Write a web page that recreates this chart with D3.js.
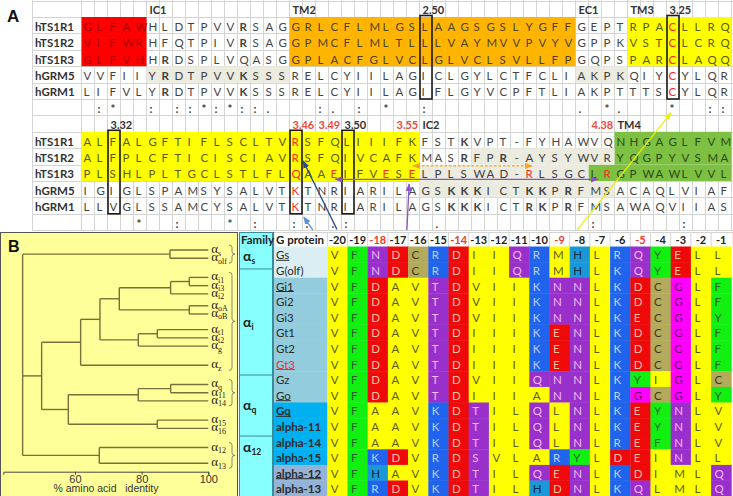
<!DOCTYPE html>
<html><head><meta charset="utf-8">
<script src="https://cdn.jsdelivr.net/npm/d3@7/dist/d3.min.js"></script>
<style>
html,body{margin:0;padding:0;background:#fff;}
svg{display:block;}
</style></head>
<body>
<svg id="fig" width="733" height="496"></svg>
<script>
// ================= DATA =================
const receptors = ["hTS1R1","hTS1R2","hTS1R3","hGRM5","hGRM1"];
const seqBlock1 = [
 "GLFAWHLDTPVVRSAGGRLCFLMLGSLAAGSGSLYGFFGEPTRPACLLRQ",
 "VIFWRHFQTPIVRSAGGPMCFLMLTLLLVAYMVVPVYVGPPKVSTCLCRQ",
 "GLFVHHRDSPLVQASGGPLACFGLVCLGLVCLSVLLFPGQPSPARCLAQQ",
 "VVFIIYRDTPVVKSSSRELCYIILAGICLGYLCTFCLIAKPKQIYCYLQR",
 "LIFVLYRDTPVVKSSSRELCYIILAGIFLGYVCPFTLIAKPTTTSCYLQR"];
const seqBlock2 = [
 "ALFALGFTIFLSCLTVRSFQLIIIFKFSTKVPT-FYHAWVQNHGAGLFVM",
 "ALFPLCFTICISCIAVRSFQIVCAFKMASRFPR-AYSYWVRYQGPYVSMA",
 "PLSHLPLTGCLSTLFLQAAEIFVESELPLSWAD-RLSGCLRGPWAWLVVL",
 "IGIGLSPAMSYSALVTKTNRIARILAGSKKKICTKKPRFMSACAQLVIAF",
 "LLVGLSSAMCYSALVTKTNRIARILAGSKKKICTRKPRFMSAWAQVIIAS"];
const consBlock1 = [[2,":"],[3,"*"],[6,":"],[8,":"],[9,":"],[10,"*"],[11,":"],[12,"*"],[13,":"],[14,":"],[15,"."],[19,":"],[20,"."],[22,":"],[24,"*"],[27,":"],[39,"."],[41,"*"],[42,"."],[46,"*"],[49,":"],[50,":"]];
const consBlock2 = [[5,"*"],[8,":"],[12,"*"],[14,":"],[17,":"],[18,":"],[20,"."],[21,":"],[28,"."],[40,":"],[47,":"]];
const headerLabels1 = [[6,"IC1",0],[17,"TM2",0],[27,"2.50",0],[39,"EC1",0],[43,"TM3",0],[46,"3.25",0]];
const headerLabels2 = [[3,"3.32",0],[17,"3.46",1],[19,"3.49",1],[21,"3.50",0],[25,"3.55",1],[27,"IC2",0],[40,"4.38",1],[42,"TM4",0]];
// shaded domains: [block, firstSeq, lastSeq, firstCol, lastCol, colour key]
const domainsA = [
 [0,0,2,1,5,"red"],[0,0,2,17,38,"orange"],[0,0,2,43,50,"yellow"],
 [0,3,3,6,16,"tan"],[0,3,3,39,42,"tan"],
 [1,0,2,1,26,"yellow"],[1,0,1,42,50,"green"],[1,2,2,40,50,"green"],
 [1,1,1,31,41,"tan"],[1,2,2,27,39,"tan"],[1,3,3,27,41,"tan"]];
const boxedCols = [[0,27],[0,46],[1,3],[1,17],[1,21]];
const redResidues = [[0,0,46],[0,1,46],[0,2,46],[0,3,46],[0,4,46],
 [1,0,17],[1,1,17],[1,2,17],[1,3,17],[1,4,17],[1,2,20],[1,2,24],[1,2,26],[1,2,35],[1,2,41]];
const boldResidues = [[0,0,13],[0,1,13],[0,2,7],[0,3,7],[0,3,13],[0,4,7],[0,4,13],
 [1,0,30],[1,1,30],[1,1,33],[1,3,29],[1,3,30],[1,3,31],[1,3,35],[1,3,36],[1,3,38],
 [1,4,29],[1,4,30],[1,4,31],[1,4,35],[1,4,36],[1,4,38]];

// G protein C-terminal table
const positions = d3.range(-20,0);
const redPositions = [-18,-14,-9,-5];
const gProteins = ["Gs","G(olf)","Gi1","Gi2","Gi3","Gt1","Gt2","Gt3","Gz","Go","Gq","alpha-11","alpha-14","alpha-15","alpha-12","alpha-13"];
const gProteinGroup = ["s","s","i","i","i","i","i","i","i","i","q","q","q","q","12","12"];
const underlined = ["Gs","Gi1","Gt3","Go","Gq","alpha-12"];
const cTerminus = [
 "VFNDCRDIIQRMHLRQYELL","VFNDCRDIIQRMHLKQYELL",
 "VFDAVTDVIIKNNLKDCGLF","VFDAVTDVIIKNNLKDCGLF","VFDAVTDVIIKNNLKECGLY",
 "VFDAVTDIIIKENLKDCGLF","VFDAVTDIIIKENLKDCGLF","VFDAVTDIIIKENLKDCGLF",
 "VFDAVTDVIIQNNLKYIGLC","VFDAVTDIIIANNLRGCGLY",
 "VFAAVKDTILQLNLKEYNLV","VFAAVKDTILQLNLKEYNLV","VFAAVKDTILQLNLREFNLV",
 "VFKDVRDSVLARYLDEINLL","VFHAVKDTILQENLKDIMLQ","VFRDVKDTILHDNLKQLMLQ"];
const families = ["s","i","q","12"];
const familyRowSpans = [1.44, 6.8, 3.91, 3.85];

// dendrogram (% amino acid identity at each join)
const dendroNodes = [
 {id:"root",parent:null,identity:44.3},
 {id:"nS",parent:"root",identity:88.5},
 {id:"nIQ",parent:"root",identity:50.0},
 {id:"n12",parent:"root",identity:67.3},
 {id:"nI",parent:"nIQ",identity:61.7},
 {id:"nQ",parent:"nIQ",identity:58.0},
 {id:"nIT",parent:"nI",identity:67.5},
 {id:"nIO",parent:"nIT",identity:73.3},
 {id:"nI123",parent:"nIO",identity:88.7},
 {id:"nI13",parent:"nI123",identity:94.3},
 {id:"nO",parent:"nIO",identity:94.3},
 {id:"nTG",parent:"nIT",identity:79.0},
 {id:"nT",parent:"nTG",identity:84.7},
 {id:"nQ14",parent:"nQ",identity:79.0},
 {id:"nQ11",parent:"nQ14",identity:88.7},
 {id:"n1516",parent:"nQ",identity:84.7}];
const dendroLeaves = [["s","nS"],["olf","nS"],["i1","nI13"],["i3","nI13"],["i2","nI123"],["oA","nO"],["oB","nO"],
 ["t1","nT"],["t2","nT"],["g","nTG"],["z","nI"],["q","nQ11"],["11","nQ11"],["14","nQ14"],["15","n1516"],["16","n1516"],["12","n12"],["13","n12"]];
const familyBrackets = [["s","olf"],["i1","z"],["q","14"],["12","13"]];
const identityTicks = [60,80,100];

// ================= DRAWING =================
const svg = d3.select("#fig");
const SANS = "Lato, 'Open Sans', 'Liberation Sans', sans-serif";
const SERIF = "'Liberation Serif', 'DejaVu Serif', serif";
const domainFill = {red:"#ff0000",orange:"#ffb500",yellow:"#ffff00",green:"#7ec142",tan:"#ecebe0"};
const domainText = {red:"#a80000",orange:"#4e4228",yellow:"#5a5a00",green:"#2c4a18",tan:"#404040"};

// ---------- Panel A ----------
const colW = 13, rowH = 16.4;
const xA = d3.scaleBand().domain(d3.range(1,51)).range([81.5, 81.5 + 50*colW]);
const yA = d3.scaleBand().domain(d3.range(14)).range([0.6, 0.6 + 14*rowH]);
const gA = svg.append("g");
const rowOf = (block, s) => block*7 + 1 + s;

// grid
const vLines = [32.5, ...d3.range(1,51).map(c => xA(c)), xA(50)+colW];
gA.selectAll("line.v").data(vLines).join("line")
  .attr("x1",d=>d).attr("x2",d=>d).attr("y1",0).attr("y2",yA(13)+rowH)
  .attr("stroke","#d4d4d4").attr("stroke-width",1);
const hLines = [...d3.range(14).map(r => yA(r)), yA(13)+rowH].map(v => Math.round(v)+0.5);
gA.selectAll("line.h").data(hLines).join("line")
  .attr("x1",32.5).attr("x2",733).attr("y1",d=>d).attr("y2",d=>d)
  .attr("stroke","#d4d4d4").attr("stroke-width",1);

// shaded domains
gA.selectAll("rect.dom").data(domainsA).join("rect")
  .attr("x", d => xA(d[3])).attr("width", d => (d[4]-d[3]+1)*colW)
  .attr("y", d => yA(rowOf(d[0],d[1]))).attr("height", d => (d[2]-d[1]+1)*rowH)
  .attr("fill", d => domainFill[d[5]]);

function domainAt(block, s, c){
  const d = domainsA.find(r => r[0]===block && s>=r[1] && s<=r[2] && c>=r[3] && c<=r[4]);
  return d ? d[5] : null;
}
const isIn = (list, b, s, c) => list.some(r => r[0]===b && r[1]===s && r[2]===c);

// residues
[seqBlock1, seqBlock2].forEach((block, b) => {
  const cells = [];
  block.forEach((seq, s) => seq.split("").forEach((ch, i) => cells.push({b, s, c:i+1, ch})));
  gA.append("g").selectAll("text").data(cells).join("text")
    .attr("x", d => xA(d.c) + (d.ch==="-" ? 4 : 2))
    .attr("y", d => yA(rowOf(d.b,d.s)) + rowH/2 + 1)
    .attr("dominant-baseline","central")
    .attr("font-family", SANS).attr("font-size", 11.5)
    .attr("font-weight", d => isIn(boldResidues,d.b,d.s,d.c) ? 700 : 400)
    .attr("fill", d => {
      if (isIn(redResidues,d.b,d.s,d.c)) return "#ff2a1a";
      const dm = domainAt(d.b,d.s,d.c);
      return dm ? domainText[dm] : "#444";
    })
    .text(d => d.ch);
  // names
  gA.append("g").selectAll("text").data(receptors).join("text")
    .attr("x", 35).attr("y", (d,s) => yA(rowOf(b,s)) + rowH/2 + 1)
    .attr("dominant-baseline","central")
    .attr("font-family", SANS).attr("font-size", 11.5).attr("font-weight", 700)
    .attr("fill","#333").text(d => d);
});
// conservation rows
[[consBlock1,0],[consBlock2,1]].forEach(([cons,b]) => {
  gA.append("g").selectAll("text").data(cons).join("text")
    .attr("x", d => xA(d[0]) + 3).attr("y", yA(b*7+6) + rowH/2 + 1)
    .attr("dominant-baseline","central")
    .attr("font-family", SANS).attr("font-size", 11.5).attr("font-weight",700)
    .attr("fill","#444").text(d => d[1]);
});
// header labels
[[headerLabels1,0],[headerLabels2,1]].forEach(([labs,b]) => {
  gA.append("g").selectAll("text").data(labs).join("text")
    .attr("x", d => xA(d[0]) + 3).attr("y", yA(b*7) + rowH/2 + 1)
    .attr("dominant-baseline","central")
    .attr("font-family", SANS).attr("font-size", 11).attr("font-weight", 700)
    .attr("fill", d => d[2] ? "#f04a3a" : "#333").text(d => d[1]);
});
// boxes
gA.selectAll("rect.box").data(boxedCols).join("rect")
  .attr("x", d => xA(d[1]) + 0.5).attr("width", colW - 1)
  .attr("y", d => yA(rowOf(d[0],0)) - 1.5).attr("height", 5*rowH + 1.5)
  .attr("fill","none").attr("stroke","#1a1a1a").attr("stroke-width",1.6);
// "A" label
svg.append("text").attr("x",7).attr("y",22).attr("font-family","'Liberation Sans', Arial, sans-serif")
  .attr("font-size",17).attr("font-weight",700).attr("fill","#111").text("A");

// ---------- Panel B : dendrogram ----------
const B = {x0:0.5, y0:232.5, x1:237.5, y1:496};
svg.append("rect").attr("x",B.x0).attr("y",B.y0).attr("width",B.x1-B.x0).attr("height",B.y1-B.y0+2)
  .attr("fill","#ffff99").attr("stroke","#555").attr("stroke-width",1);
svg.append("text").attr("x",8).attr("y",252).attr("font-family","'Liberation Sans', Arial, sans-serif")
  .attr("font-size",16).attr("font-weight",700).attr("fill","#111").text("B");

const allNodes = dendroNodes.concat(dendroLeaves.map(([n,p]) => ({id:"L_"+n, parent:p, identity:100, label:n})));
const root = d3.stratify().id(d => d.id).parentId(d => d.parent)(allNodes);
function lca(a,b){ const anc = new Set(a.ancestors()); let n=b; while(!anc.has(n)) n=n.parent; return n; }
d3.cluster().nodeSize([1,1]).separation((a,b) => {
  const h = lca(a,b).data.identity;
  return 24 + Math.max(0, Math.min(1, (79-h)/17))*32;
})(root);
const leaves = root.leaves();
const xD = d3.scaleLinear().domain([38.5,100]).range([3.3, 208.3]);
const yD = d3.scaleLinear().domain(d3.extent(leaves, d => d.x)).range([250, 463.3]);
const lineCol = "#75713a";
const gD = svg.append("g").attr("stroke", lineCol).attr("stroke-width",1.4).attr("fill","none");
root.descendants().filter(n => n.children).forEach(n => {
  const ys = n.children.map(c => yD(c.x));
  gD.append("line").attr("x1",xD(n.data.identity)).attr("x2",xD(n.data.identity))
    .attr("y1",d3.min(ys)).attr("y2",d3.max(ys));
  n.children.forEach(c => {
    gD.append("line").attr("x1",xD(n.data.identity)).attr("x2",xD(c.data.identity))
      .attr("y1",yD(c.x)).attr("y2",yD(c.x));
  });
});
// leaf labels
const gL = svg.append("g");
leaves.forEach(l => {
  const t = gL.append("text").attr("x", xD(100) + 3).attr("y", yD(l.x) + 3)
    .attr("font-family", SERIF).attr("fill","#222");
  t.append("tspan").attr("font-size",13).text("α");
  t.append("tspan").attr("font-size",8).attr("dy",2.5).text(l.data.label);
});
// family braces
const leafY = name => yD(leaves.find(l => l.data.label===name).x);
familyBrackets.forEach(([a,b]) => {
  const y0 = leafY(a) - 5, y1 = leafY(b) + 5, ym = (y0+y1)/2;
  const x0 = 229, x1 = 232, x2 = 235, r = 2.5;
  svg.append("path").attr("fill","none").attr("stroke","#777").attr("stroke-width",0.9)
    .attr("d", `M${x0},${y0} Q${x1},${y0} ${x1},${y0+r} L${x1},${ym-r} Q${x1},${ym} ${x2},${ym} Q${x1},${ym} ${x1},${ym+r} L${x1},${y1-r} Q${x1},${y1} ${x0},${y1}`);
});
// axis
const axis = d3.axisBottom(xD).tickValues(identityTicks).tickSize(3).tickSizeOuter(3).tickPadding(1);
const gAx = svg.append("g").attr("transform","translate(0,471.7)").call(axis);
gAx.selectAll("path,line").attr("stroke","#444");
gAx.selectAll("text").attr("font-family","'Liberation Sans', Arial, sans-serif").attr("font-size",11).attr("fill","#333");
svg.append("text").attr("x",106).attr("y",492).attr("text-anchor","middle")
  .attr("font-family","'Liberation Sans', Arial, sans-serif").attr("font-size",10.5).attr("fill","#333")
  .attr("xml:space","preserve").style("white-space","pre").text("% amino acid   identity");

// ---------- Panel B : G protein table ----------
const tblTop = 232, hdrBottom = 246.5, tRowH = 15.6, cW = 20.2;
const xT = d3.scaleBand().domain(positions).range([327.3, 327.3 + 20*cW]);
const yT = d3.scaleBand().domain(gProteins).range([hdrBottom, hdrBottom + 16*tRowH]);
const resClass = ch => "AVILMP".includes(ch) ? "hyd" : "FYW".includes(ch) ? "aro" : ch==="C" ? "cys" :
  "NQST".includes(ch) ? "pol" : "DE".includes(ch) ? "acid" : "KR".includes(ch) ? "base" : ch==="H" ? "his" : "gly";
const resFill = {hyd:"#ffff00",aro:"#12f012",cys:"#b3ab5b",pol:"#9a30cc",acid:"#ee0a0a",base:"#2064ee",his:"#1a98d8",gly:"#ff00ff"};
const resText = {hyd:"#5a5a00",aro:"#2a602a",cys:"#3c3a22",pol:"#f2b8f2",acid:"#ffbfa0",base:"#bcd0ff",his:"#0c2c48",gly:"#6a006a"};
const gT = svg.append("g");
// header background & grid
gT.append("rect").attr("x",274).attr("y",tblTop).attr("width",733-274).attr("height",hdrBottom-tblTop).attr("fill","#fff");
gT.selectAll("line.hg").data([274, ...positions.map(p => xT(p)), 733]).join("line")
  .attr("x1",d=>d).attr("x2",d=>d).attr("y1",tblTop).attr("y2",hdrBottom).attr("stroke","#d4d4d4");
gT.append("line").attr("x1",274).attr("x2",733).attr("y1",tblTop+0.5).attr("y2",tblTop+0.5).attr("stroke","#d4d4d4");
// cells
const tCells = [];
cTerminus.forEach((seq, r) => seq.split("").forEach((ch, i) => tCells.push({p:gProteins[r], pos:positions[i], ch, k:resClass(ch)})));
gT.selectAll("rect.cell").data(tCells).join("rect")
  .attr("x", d => xT(d.pos)).attr("y", d => yT(d.p))
  .attr("width", xT.bandwidth() + 0.4).attr("height", yT.bandwidth() + 0.4)
  .attr("fill", d => resFill[d.k]);
gT.selectAll("text.cell").data(tCells).join("text")
  .attr("x", d => xT(d.pos) + 3.5).attr("y", d => yT(d.p) + tRowH/2 + 0.5)
  .attr("dominant-baseline","central").attr("font-family",SANS).attr("font-size",11.5)
  .attr("fill", d => resText[d.k]).text(d => d.ch);
// header numbers
gT.selectAll("text.hdr").data(positions).join("text")
  .attr("x", d => xT(d) + cW/2).attr("y", (tblTop+hdrBottom)/2 + 0.5)
  .attr("text-anchor","middle").attr("dominant-baseline","central")
  .attr("font-family",SANS).attr("font-size",11).attr("font-weight",700)
  .attr("fill", d => redPositions.includes(d) ? "#f03a2a" : "#222").text(d => d);
gT.append("text").attr("x",276).attr("y",(tblTop+hdrBottom)/2+0.5).attr("dominant-baseline","central")
  .attr("font-family",SANS).attr("font-size",11.5).attr("font-weight",700).attr("fill","#222").text("G protein");
// G protein name column
const groupFill = {s:"#dbeef4", i:"#93cddd", q:"#00b0f0", "12":"#95b3d7"};
gT.selectAll("rect.gp").data(gProteins).join("rect")
  .attr("x",274).attr("width",327.3-274).attr("y", d => yT(d)).attr("height", yT.bandwidth()+0.4)
  .attr("fill", (d,i) => groupFill[gProteinGroup[i]]);
const gpText = gT.selectAll("text.gp").data(gProteins).join("text")
  .attr("x",276).attr("y", d => yT(d) + tRowH/2 + 0.5).attr("dominant-baseline","central")
  .attr("font-family",SANS).attr("font-size",11.5)
  .attr("font-weight", (d,i) => gProteinGroup[i]==="q" || gProteinGroup[i]==="12" ? 700 : 400)
  .attr("fill", d => d==="Gt3" ? "#e8303a" : "#2a2a2a").text(d => d);
gpText.each(function(d){
  if (!underlined.includes(d)) return;
  const w = this.getComputedTextLength();
  gT.append("line").attr("x1",276).attr("x2",276+w).attr("y1",yT(d)+tRowH/2+6).attr("y2",yT(d)+tRowH/2+6)
    .attr("stroke", d==="Gt3" ? "#e8303a" : "#2a2a2a").attr("stroke-width",1);
});
// Family column
const famX0 = 239.5, famX1 = 272.5;
const famBounds = [tblTop + 0.5, ...d3.cumsum(familyRowSpans).map(v => hdrBottom + v*tRowH)];
gT.append("rect").attr("x",famX0).attr("y",tblTop+0.5).attr("width",famX1-famX0).attr("height",496-tblTop)
  .attr("fill","#88ffff").attr("stroke","#3a8c9c").attr("stroke-width",1);
gT.selectAll("line.fam").data(famBounds.slice(1,-1)).join("line")
  .attr("x1",famX0).attr("x2",famX1).attr("y1",d=>d).attr("y2",d=>d).attr("stroke","#3a8c9c");
gT.append("line").attr("x1",273.5).attr("x2",273.5).attr("y1",tblTop).attr("y2",496).attr("stroke","#3a8c9c");
gT.append("text").attr("x",241).attr("y",(tblTop+hdrBottom)/2+0.5).attr("dominant-baseline","central")
  .attr("font-family",SANS).attr("font-size",11.5).attr("font-weight",700).attr("fill","#222").text("Family");
families.forEach((f, i) => {
  const top = famBounds[i], bot = famBounds[i+1];
  const cy = i===0 ? bot - 12 : i===3 ? top + 11 : (top+bot)/2;
  const t = gT.append("text").attr("x",243).attr("y",cy+4.5)
    .attr("font-family",SANS).attr("font-weight",700).attr("fill","#222");
  t.append("tspan").attr("font-size",14).text("α");
  t.append("tspan").attr("font-size",8.5).attr("dy",3).text(f);
});

// ---------- Annotation arrows ----------
const defs = svg.append("defs");
const arrowCols = {navy:"#2d4a8c", sky:"#5b8fd2", purple:"#8a55c8", orange:"#f5a524", yellow:"#eeee10"};
Object.entries(arrowCols).forEach(([k,c]) => {
  defs.append("marker").attr("id","ah-"+k).attr("viewBox","0 0 10 10").attr("refX",9).attr("refY",5)
    .attr("markerWidth",6).attr("markerHeight",6).attr("orient","auto-start-reverse")
    .append("path").attr("d","M0,1 L10,5 L0,9 z").attr("fill",c);
});
// anchor: [row, col, fx, fy] on the panel A grid
const cellPt = ([r,c,fx,fy]) => [xA(c) + fx*colW, yA(r) + fy*rowH];
const arrows = [
  {from:[13,20,0.65,0.95], to:[9,18,0.05,0.78], col:"navy", both:false},
  {from:[13,18,0.8,1.0], to:[13,18,0.1,0.2], col:"sky", both:false},
  {from:[13,26,0.03,1.0], to:[11,26,0.2,0.18], col:"purple", both:false},
  {from:[10,20,0.5,0.9], to:[10,40,0.73,0.9], col:"purple", both:true},
  {from:[10,26,0.5,0.08], to:[10,35,0.65,0.08], col:"orange", both:true, dash:"2.5,2"},
  {from:[13,39,0.12,1.0], to:[6,46,0.35,0.85], col:"yellow", both:false}];
const gArr = svg.append("g");
arrows.forEach(a => {
  const [x1,y1] = cellPt(a.from), [x2,y2] = cellPt(a.to);
  const ln = gArr.append("line").attr("x1",x1).attr("y1",y1).attr("x2",x2).attr("y2",y2)
    .attr("stroke",arrowCols[a.col]).attr("stroke-width",1.3)
    .attr("marker-end",`url(#ah-${a.col})`);
  if (a.both) ln.attr("marker-start",`url(#ah-${a.col})`);
  if (a.dash) ln.attr("stroke-dasharray",a.dash);
});
</script>
</body></html>
